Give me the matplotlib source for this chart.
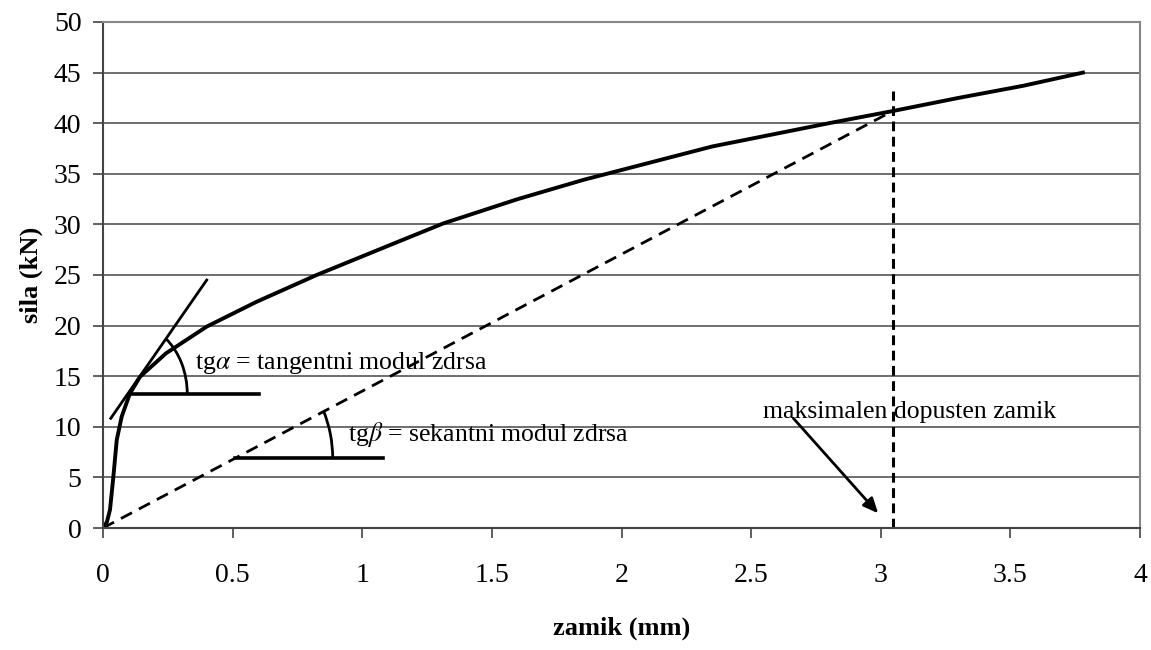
import numpy as np
import matplotlib.pyplot as plt
from matplotlib.patches import Arc

plt.rcParams['font.family'] = ['Liberation Serif', 'DejaVu Serif']
plt.rcParams['mathtext.fontset'] = 'stix'

# load-slip curve
zamik = [0, 0.015, 0.027, 0.04, 0.053, 0.072, 0.104, 0.143, 0.243, 0.4, 0.593,
         0.824, 1.107, 1.313, 1.6, 1.853, 2.35, 2.8, 3.046, 3.3, 3.55, 3.78]
sila = [0, 0.6, 1.8, 5.07, 8.7, 11.0, 13.3, 14.95, 17.26, 19.9, 22.36,
        25.0, 27.96, 30.1, 32.5, 34.4, 37.7, 40.0, 41.2, 42.5, 43.7, 45.0]

# helper lines
tang_x = [0.03, 0.40]
tang_y = [10.84, 24.5]
tang_base_x = [0.104, 0.6]
tang_base_y = 13.24
sek_x = [0, 3.046]
sek_y = [0, 41.2]
sek_base_x = [0.51, 1.08]
sek_base_y = 6.88
max_zamik = 3.046
max_top = 43.2

x_ticks = [0, 0.5, 1, 1.5, 2, 2.5, 3, 3.5, 4]
x_labels = ['0', '0.5', '1', '1.5', '2', '2.5', '3', '3.5', '4']
y_ticks = list(range(0, 51, 5))

fig = plt.figure(figsize=(11.51, 6.5), dpi=100)
ax = fig.add_axes([103 / 1151, 1 - 528 / 650, 1037 / 1151, 506 / 650])

ax.set_xlim(0, 4)
ax.set_ylim(0, 50)
ax.set_xticks(x_ticks)
ax.set_xticklabels(x_labels)
ax.set_yticks(y_ticks)
ax.grid(axis='y', color='#555555', lw=1.2)
ax.set_axisbelow(True)
for s in ['top', 'right']:
    ax.spines[s].set_color('#888888')
    ax.spines[s].set_linewidth(1.5)
for s in ['left', 'bottom']:
    ax.spines[s].set_color('#444444')
    ax.spines[s].set_linewidth(1.5)
ax.tick_params(axis='both', labelsize=20, color='#444444', length=7.5, width=1.2)
ax.tick_params(axis='x', pad=18)
ax.tick_params(axis='y', pad=8)

ax.plot(zamik, sila, color='black', lw=2.8, solid_joinstyle='round')

# tangent
ax.plot(tang_x, tang_y, color='black', lw=2.0)
ax.plot(tang_base_x, [tang_base_y, tang_base_y], color='black', lw=2.6)
a_top = (0.243, 18.7)
a_r = 0.325 - tang_base_x[0]
a_ry = (a_top[1] - tang_base_y) / np.sqrt(1 - ((a_top[0] - tang_base_x[0]) / a_r) ** 2)
a_ang = np.degrees(np.arctan2(a_top[1] - tang_base_y, a_top[0] - tang_base_x[0]))
ax.add_patch(Arc((tang_base_x[0], tang_base_y), 2 * a_r, 2 * a_ry, theta1=0, theta2=a_ang,
                 color='black', lw=2.0))

# secant
ax.plot(sek_x, sek_y, color='black', lw=2.0, dashes=(4.5, 2.8))
ax.plot(sek_base_x, [sek_base_y, sek_base_y], color='black', lw=2.6)
b_top = (0.85, 11.6)
b_r = 0.886 - sek_base_x[0]
b_ry = (b_top[1] - sek_base_y) / np.sqrt(1 - ((b_top[0] - sek_base_x[0]) / b_r) ** 2)
b_ang = np.degrees(np.arctan2(b_top[1] - sek_base_y, b_top[0] - sek_base_x[0]))
ax.add_patch(Arc((sek_base_x[0], sek_base_y), 2 * b_r, 2 * b_ry, theta1=0, theta2=b_ang,
                 color='black', lw=2.0))

# max slip
ax.plot([max_zamik, max_zamik], [0, max_top], color='black', lw=2.2, dashes=(3.2, 1.8))

ax.text(0.355, 16.3, r'tg$\alpha$ = tangentni modul zdrsa', fontsize=18.5, va='center')
ax.text(0.945, 9.2, r'tg$\beta$ = sekantni modul zdrsa', fontsize=18.5, va='center')
ax.text(2.546, 11.5, 'maksimalen dopusten zamik', fontsize=18.5, va='center')
ax.annotate('', xy=(2.99, 1.45), xytext=(2.663, 10.84),
            arrowprops=dict(arrowstyle='-|>,head_length=0.9,head_width=0.4',
                            color='black', lw=2.0, shrinkA=0, shrinkB=0))

ax.set_xlabel('zamik (mm)', fontsize=19, fontweight='bold', labelpad=20)
ax.set_ylabel('sila (kN)', fontsize=19, fontweight='bold', labelpad=8)

fig.savefig('out.png', dpi=100)
